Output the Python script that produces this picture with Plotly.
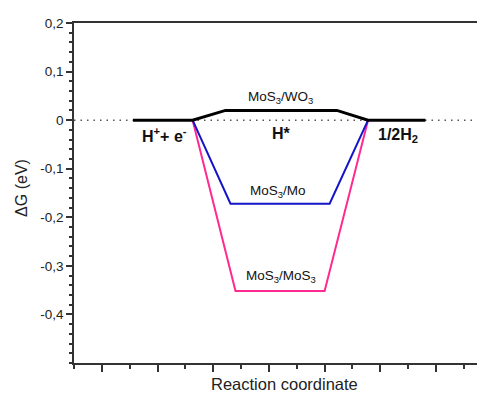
import plotly.graph_objects as go

# --- data (reaction coordinate units, ΔG in eV) ---
wo3_x = [1.56, 2.63, 3.22, 5.22, 5.78, 6.81]
wo3_y = [0.0, 0.0, 0.02, 0.02, 0.0, 0.0]

mo_x = [2.63, 3.31, 5.09, 5.78]
mo_y = [0.0, -0.172, -0.172, 0.0]

mos3_x = [2.63, 3.40, 5.00, 5.78]
mos3_y = [0.0, -0.352, -0.352, 0.0]

ytick_vals = [-0.4, -0.3, -0.2, -0.1, 0.0, 0.1, 0.2]
ytick_text = ["-0,4", "-0,3", "-0,2", "-0,1", "0", "0,1", "0,2"]

labels = [
    (2.13, -0.031, "<b>H<sup>+</sup>+ e<sup>-</sup></b>", 16),
    (4.22, -0.028, "<b>H*</b>", 16),
    (6.32, -0.031, "<b>1/2H<sub>2</sub></b>", 16),
    (4.20, 0.046, "MoS<sub>3</sub>/WO<sub>3</sub>", 13.5),
    (4.17, -0.146, "MoS<sub>3</sub>/Mo", 13.5),
    (4.22, -0.322, "MoS<sub>3</sub>/MoS<sub>3</sub>", 13.5),
]

x_title = "Reaction coordinate"
y_title = "ΔG (eV)"

fig = go.Figure()
fig.add_shape(type="line", xref="paper", x0=0, x1=1, yref="y", y0=0, y1=0,
              line=dict(color="#555555", width=1.5, dash="1.5px,5px"), layer="below")

fig.add_trace(go.Scatter(x=mos3_x, y=mos3_y, mode="lines",
                         line=dict(color="#FF2A90", width=2)))
fig.add_trace(go.Scatter(x=mo_x, y=mo_y, mode="lines",
                         line=dict(color="#1414C8", width=2)))
fig.add_trace(go.Scatter(x=wo3_x, y=wo3_y, mode="lines",
                         line=dict(color="#000000", width=3)))

for x, y, t, s in labels:
    fig.add_annotation(x=x, y=y, text=t, showarrow=False,
                       font=dict(family="Liberation Sans, Arial", size=s, color="#111111"),
                       xanchor="center", yanchor="middle")

fig.add_annotation(xref="paper", yref="paper", x=0.513, y=-0.062, text=x_title,
                   showarrow=False, xanchor="center", yanchor="middle",
                   font=dict(family="Liberation Sans, Arial", size=16.5, color="#222222"))
fig.add_annotation(xref="paper", yref="paper", x=-0.1265, y=0.515, text=y_title,
                   showarrow=False, xanchor="center", yanchor="middle", textangle=-90,
                   font=dict(family="Liberation Sans, Arial", size=16, color="#222222"))

axcol = "#333333"
# page body has an 8px default margin; figure size/margins compensate for it
fig.update_layout(
    width=477, height=392,
    margin=dict(l=66, r=0, t=15, b=37, autoexpand=False),
    paper_bgcolor="white", plot_bgcolor="white",
    showlegend=False,
    font=dict(family="Liberation Sans, Arial", color="#222222"),
    xaxis=dict(range=[0.5, 7.88], showgrid=False, zeroline=False, automargin=False,
               showline=True, linecolor=axcol, linewidth=1.6, mirror=True,
               tickmode="linear", tick0=0, dtick=1,
               ticks="outside", ticklen=7, tickwidth=1.5, tickcolor=axcol,
               showticklabels=False,
               minor=dict(tickmode="linear", tick0=0, dtick=0.5, ticks="outside",
                          ticklen=4, tickwidth=1.5, tickcolor=axcol)),
    yaxis=dict(range=[-0.5, 0.2], showgrid=False, zeroline=False, automargin=False,
               showline=True, linecolor=axcol, linewidth=1.6,
               tickmode="array", tickvals=ytick_vals, ticktext=ytick_text,
               ticks="outside", ticklen=6, tickwidth=1.5, tickcolor=axcol,
               tickfont=dict(size=13.5, color="#222222"),
               minor=dict(tickmode="linear", tick0=0, dtick=0.02, ticks="outside",
                          ticklen=3, tickwidth=1.5, tickcolor=axcol)),
)

fig.write_html("out.html")
